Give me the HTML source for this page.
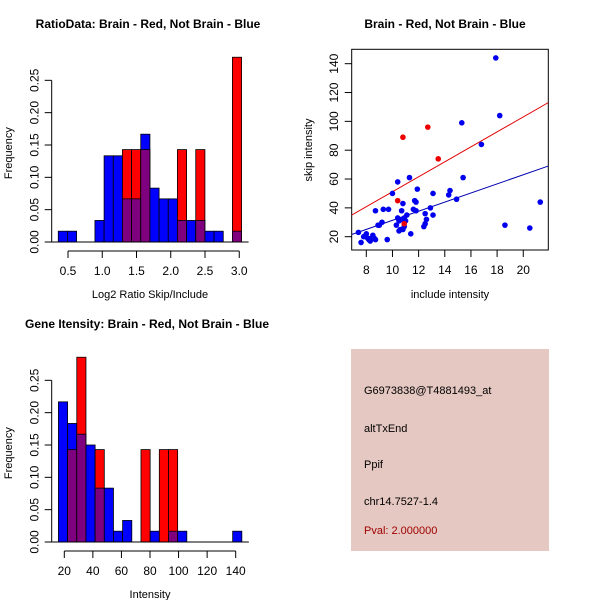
<!DOCTYPE html>
<html><head><meta charset="utf-8"><style>
body{margin:0;background:#fff}
svg{display:block;font-family:"Liberation Sans",Arial,sans-serif}
</style></head><body>
<svg id="root" width="600" height="600" viewBox="0 0 600 600"></svg>
<script>
// ---- data ----
const ratioBlue=[0.0167,0.0167,0,0,0.0333,0.1333,0.1333,0.0667,0.0667,0.1667,0.0833,0.0667,0.0667,0.0333,0.0333,0.0333,0.0167,0.0167,0,0.0167];
const ratioRed=[0,0,0,0,0,0,0,0.1429,0.1429,0.1429,0,0,0,0.1429,0,0.1429,0,0,0,0.2857];
const ratioBinStart=0.358, ratioBinWidth=0.1338;
const ratioXTicks=[0.5,1.0,1.5,2.0,2.5,3.0];
const freqTicks=[0,0.05,0.10,0.15,0.20,0.25];
const intBlue=[0.2167,0.1833,0.1667,0.15,0.0833,0.0833,0.0167,0.0333,0,0,0.0167,0,0.0167,0.0167,0,0,0,0,0,0.0167];
const intRed=[0,0.1429,0.2857,0,0.1429,0,0,0,0,0.1429,0,0.1429,0.1429,0,0,0,0,0,0,0];
const intBinStart=15.9, intBinWidth=6.42;
const intXTicks=[20,40,60,80,100,120,140];
const blueX=[7.4,7.6,7.8,8.0,8.1,8.2,8.3,8.4,8.5,8.6,8.7,8.7,8.9,9.0,9.2,9.3,9.6,9.7,10.0,10.3,10.4,10.4,10.5,10.5,10.6,10.7,10.7,10.8,10.8,10.9,10.9,11.0,11.1,11.3,11.4,11.6,11.7,11.8,11.8,11.9,12.4,12.5,12.5,12.6,12.9,13.1,13.1,14.3,14.4,14.9,15.3,15.4,16.8,17.9,18.2,18.6,20.5,21.3];
const blueY=[23,16,20,22,19,18,17,19,21,19,18,38,28,28,30,39,18,39,50,28,58,33,24,31,25,38,32,43,25,33,27,31,35,61,22,39,45,44,38,53,27,36,29,32,40,50,35,49,52,46,99,61,84,144,104,28,26,44];
const redX=[10.8,12.7,13.5,10.4,10.9];
const redY=[89,96,74,45,29];
const redLine=[[6.88,35],[21.91,113]];
const blueLine=[[6.88,21.5],[21.91,69]];
const scXTicks=[8,10,12,14,16,18,20];
const scYTicks=[20,40,60,80,100,120,140];

const NS="http://www.w3.org/2000/svg";
const root=document.getElementById('root');
function mk(tag,attrs,parent,txt){const e=document.createElementNS(NS,tag);for(const k in attrs)e.setAttribute(k,attrs[k]);if(txt!==undefined)e.textContent=txt;(parent||root).appendChild(e);return e;}

function histogram(name,ox,oy,x0v,x0px,pxPerUnit,blue,red,binStart,binW,xticks,xlabel,title,titleX){
  const g=mk('g',{},root);
  
  
  const X=v=>x0px+(v-x0v)*pxPerUnit;
  const Y=v=>oy-v*646.7;
  for(let i=0;i<blue.length;i++){
    const a=X(binStart+i*binW), b=X(binStart+(i+1)*binW);
    const bv=blue[i], rv=red[i];
    const hi=Math.max(bv,rv), lo=Math.min(bv,rv);
    if(hi>0){
      const r=mk('rect',{x:a,y:Y(hi),width:b-a,height:Y(0)-Y(hi),fill:bv>=rv?'#0000ff':'#ff0000',stroke:'#000','stroke-width':0.8},g);
      
      
    }
    if(lo>0){
      const r=mk('rect',{x:a,y:Y(lo),width:b-a,height:Y(0)-Y(lo),fill:'#7f007f',stroke:'#000','stroke-width':0.8},g);
      
      
    }
  }
  mk('line',{x1:X(binStart)-10,x2:X(binStart+blue.length*binW)+7,y1:oy,y2:oy,stroke:'#000'},g);
  const ya=mk('g',{},g);
  
  
  mk('line',{x1:ox,x2:ox,y1:Y(0),y2:Y(0.25),stroke:'#000'},ya);
  freqTicks.forEach(t=>{
    mk('line',{x1:ox-7,x2:ox,y1:Y(t),y2:Y(t),stroke:'#000'},ya);
    mk('text',{x:ox-13,y:Y(t),transform:`rotate(-90 ${ox-13} ${Y(t)})`,'text-anchor':'middle','font-size':12},ya,t.toFixed(2));
  });
  const yt=mk('text',{x:12,y:(Y(0)+Y(0.25))/2-8,transform:`rotate(-90 12 ${(Y(0)+Y(0.25))/2-8})`,'text-anchor':'middle','font-size':11},g,'Frequency');
  
  
  const xa=mk('g',{},g);
  
  
  const ay=oy+9;
  mk('line',{x1:X(xticks[0]),x2:X(xticks[xticks.length-1]),y1:ay,y2:ay,stroke:'#000'},xa);
  xticks.forEach(t=>{
    mk('line',{x1:X(t),x2:X(t),y1:ay,y2:ay+7,stroke:'#000'},xa);
    mk('text',{x:X(t),y:ay+24,'text-anchor':'middle','font-size':12},xa,t<10?t.toFixed(1):String(t));
  });
  const xt=mk('text',{x:150,y:oy+56,'text-anchor':'middle','font-size':11},g,xlabel);
  
  
  const tt=mk('text',{x:titleX,y:oy-214,'text-anchor':'middle','font-size':12,'font-weight':'bold'},g,title);
  
  
}
histogram('ratio-histogram',51.7,242,0.5,68,68.5,ratioBlue,ratioRed,ratioBinStart,ratioBinWidth,ratioXTicks,'Log2 Ratio Skip/Include','RatioData: Brain - Red, Not Brain - Blue',148);
histogram('intensity-histogram',51.7,542,20,64.3,1.4283,intBlue,intRed,intBinStart,intBinWidth,intXTicks,'Intensity','Gene Itensity: Brain - Red, Not Brain - Blue',147);

const sg=mk('g',{},root);


const SX=v=>366.3+(v-8)*13.08, SY=v=>236.7-(v-20)*1.4417;
mk('rect',{x:351.7,y:49.3,width:196.6,height:200.7,fill:'none',stroke:'#000'},sg);
const st=mk('text',{x:445,y:28,'text-anchor':'middle','font-size':12,'font-weight':'bold'},sg,'Brain - Red, Not Brain - Blue');


scXTicks.forEach(t=>{mk('line',{x1:SX(t),x2:SX(t),y1:250,y2:257,stroke:'#000'},sg);mk('text',{x:SX(t),y:274,'text-anchor':'middle','font-size':12},sg,String(t));});
mk('line',{x1:SX(8),x2:SX(20),y1:250,y2:250,stroke:'#000'},sg);
scYTicks.forEach(t=>{mk('line',{x1:344.7,x2:351.7,y1:SY(t),y2:SY(t),stroke:'#000'},sg);mk('text',{x:338,y:SY(t),transform:`rotate(-90 338 ${SY(t)})`,'text-anchor':'middle','font-size':12},sg,String(t));});
mk('text',{x:450,y:298,'text-anchor':'middle','font-size':11},sg,'include intensity');
mk('text',{x:312,y:150,transform:'rotate(-90 312 150)','text-anchor':'middle','font-size':11},sg,'skip intensity');
const cl=mk('clipPath',{id:'clipS'},sg);mk('rect',{x:351.7,y:49.3,width:196.6,height:200.7},cl);
const rl=mk('line',{x1:SX(redLine[0][0]),y1:SY(redLine[0][1]),x2:SX(redLine[1][0]),y2:SY(redLine[1][1]),stroke:'#e00000','clip-path':'url(#clipS)'},sg);


const bl=mk('line',{x1:SX(blueLine[0][0]),y1:SY(blueLine[0][1]),x2:SX(blueLine[1][0]),y2:SY(blueLine[1][1]),stroke:'#0000b0','clip-path':'url(#clipS)'},sg);


blueX.forEach((x,i)=>{const c=mk('circle',{cx:SX(x),cy:SY(blueY[i]),r:2.8,fill:'#0000ee'},sg);

});
redX.forEach((x,i)=>{const c=mk('circle',{cx:SX(x),cy:SY(redY[i]),r:2.8,fill:'#ee0000'},sg);

});
</script>
<div style="position:absolute;left:351px;top:349px;width:198px;height:202px;background:#e5c8c1;font-family:'Liberation Sans',Arial,sans-serif;font-size:11px;">
<div style="position:absolute;left:13px;top:36px">G6973838@T4881493_at</div>
<div style="position:absolute;left:13px;top:74px">altTxEnd</div>
<div style="position:absolute;left:13px;top:110px">Ppif</div>
<div style="position:absolute;left:13px;top:147px">chr14.7527-1.4</div>
<div style="position:absolute;left:13px;top:176px;color:#a00000">Pval: 2.000000</div>
</div>
</body></html>
